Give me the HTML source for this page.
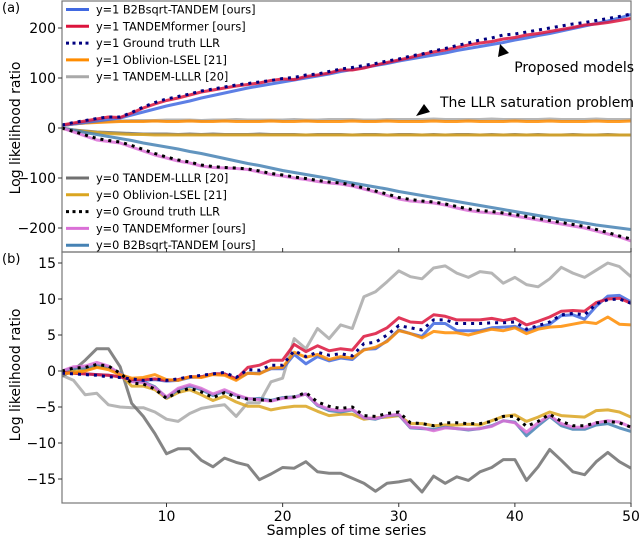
<!DOCTYPE html>
<html><head><meta charset="utf-8">
<style>
html,body{margin:0;padding:0;background:#fff;}
svg{display:block;font-family:"DejaVu Sans","Liberation Sans",sans-serif;}
</style></head>
<body>
<svg id="chart" width="640" height="538" viewBox="0 0 640 538"></svg>
<script>
const steps = Array.from({length:50},(_,i)=>i+1);
const xTicks = [10,20,30,40,50];
const topYTicks = [200,100,0,-100,-200];
const botYTicks = [15,10,5,0,-5,-10,-15];
const topTickLabels = ["200","100","0","\u2212100","\u2212200"];
const botTickLabels = ["15","10","5","0","\u22125","\u221210","\u221215"];

// Panel (a)
const a_y1_b2b = [5,8,11,14,17,20,26,32,38,44,49,54,60,65,70,75,80,84,88,92,96,100,104,108,113,117,121,125,129,134,138,142,146,150,155,159,163,167,171,176,180,185,189,194,199,204,209,214,220,227];
const a_y1_former = [6,10,14,18,22,21,30,40,48,55,60,66,72,76,80,84,87,90,95,98,97,103,106,110,116,116,120,126,131,136,141,147,152,156,161,166,170,173,178,181,186,189,193,197,201,206,208,211,215,219];
const a_y1_gt = [6,11,15,19,22,22,31,42,51,58,63,68,74,78,82,86,89,92,95,99,101,106,108,113,118,121,125,129,134,138,144,148,154,159,165,170,176,180,186,188,192,196,200,204,208,211,215,219,223,228];
const a_y1_obl = [5,8,10,11,12,13,13,13,14,13,13,14,13,13,14,13,13,13,14,13,13,14,13,13,13,14,13,13,14,13,13,13,14,13,13,14,13,13,13,14,13,13,14,13,13,13,14,13,13,14];
const a_y1_lllr = [5,8,10,12,13,14,15,15,15,16,16,16,15,16,16,17,16,16,16,16,17,16,16,17,17,17,16,16,17,17,17,17,18,17,17,17,17,18,17,17,17,17,18,17,17,17,18,17,17,17];
const a_y0_lllr = [-1,-4,-6,-8,-9,-10,-11,-12,-12,-12,-13,-12,-13,-12,-13,-13,-13,-12,-13,-13,-13,-14,-13,-13,-13,-14,-13,-13,-14,-13,-13,-14,-13,-14,-13,-13,-14,-13,-14,-13,-14,-13,-14,-14,-13,-14,-14,-13,-14,-14];
const a_y0_obl = [-1,-4,-7,-9,-11,-12,-13,-13,-14,-14,-14,-14,-14,-14,-14,-14,-14,-14,-14,-14,-14,-14,-14,-14,-14,-14,-14,-14,-14,-14,-14,-14,-14,-14,-14,-14,-14,-14,-14,-14,-14,-14,-14,-14,-14,-14,-14,-14,-14,-14];
const a_y0_gt = [0,-7,-14,-21,-25,-28,-35,-43,-51,-58,-64,-68,-74,-77,-79,-80,-82,-86,-91,-94,-98,-101,-105,-108,-110,-114,-120,-126,-132,-139,-143,-146,-148,-152,-157,-162,-165,-167,-170,-173,-177,-181,-185,-189,-193,-197,-203,-209,-216,-222];
const a_y0_former = [0,-8,-16,-24,-27,-30,-38,-46,-54,-60,-66,-70,-76,-79,-80,-81,-83,-88,-93,-96,-100,-103,-107,-110,-112,-116,-122,-128,-135,-142,-146,-148,-150,-154,-160,-165,-168,-170,-172,-176,-180,-184,-188,-192,-196,-200,-206,-212,-218,-226];
const a_y0_b2b = [0,-4,-9,-13,-17,-21,-25,-30,-34,-38,-42,-47,-51,-56,-61,-66,-71,-75,-80,-85,-89,-93,-97,-101,-106,-110,-114,-118,-122,-127,-131,-135,-139,-143,-147,-151,-155,-159,-163,-167,-171,-175,-179,-183,-186,-190,-194,-197,-200,-203];

// Panel (b)
const b_y1_lllr = [-0.6,-1.3,-3.3,-3.1,-4.7,-5.0,-5.1,-5.1,-5.7,-6.7,-7.0,-5.9,-5.2,-4.9,-4.7,-6.3,-4.4,-4.4,-1.5,-1.0,4.5,3.1,5.9,4.5,6.4,5.9,10.3,11.0,12.4,13.9,13.1,12.8,14.3,14.6,13.6,13.0,13.8,13.6,12.2,13.0,12.0,11.7,12.8,14.4,13.6,13.0,14.0,15.0,14.5,13.1];
const b_y0_lllr = [-0.7,0.1,1.5,3.1,3.1,0.6,-4.5,-6.3,-8.7,-11.5,-10.8,-10.8,-12.4,-13.3,-12.1,-12.7,-13.1,-15.1,-14.3,-13.4,-13.5,-12.6,-14.0,-14.2,-14.2,-14.9,-15.6,-16.7,-15.6,-15.4,-15.1,-16.8,-14.6,-15.6,-14.7,-15.2,-14.0,-13.4,-12.3,-12.3,-15.2,-13.3,-10.9,-12.4,-14.0,-14.4,-12.6,-11.3,-12.6,-13.5];
const b_y1_former = [-0.2,-0.3,-0.4,-0.5,-0.6,-0.8,-1.2,-1.2,-1.1,-1.3,-1.2,-0.8,-0.8,-0.4,-0.4,-1.1,0.5,0.8,1.5,1.5,3.7,2.7,3.5,2.8,3.1,2.9,4.8,5.2,6.0,7.4,6.8,6.7,7.8,7.6,7.1,7.1,7.1,7.3,7.0,7.3,6.4,6.9,7.5,8.3,8.4,8.3,9.5,10.0,10.1,9.4];
const b_y1_b2b = [-0.2,-0.3,-0.4,-0.5,-0.6,-0.8,-1.2,-1.3,-1.2,-1.4,-1.3,-0.9,-0.8,-0.4,-0.4,-1.1,-0.3,-0.3,0.3,0.3,2.3,1.0,2.0,1.4,1.8,1.6,3.0,3.1,4.2,5.7,5.2,4.8,6.6,6.6,5.6,5.6,5.6,6.0,6.1,6.2,5.6,6.1,6.5,7.7,7.8,7.2,9.0,10.4,10.5,9.6];
const b_y1_gt = [-0.3,-0.4,-0.5,-0.6,-0.8,-0.9,-1.1,-1.3,-1.1,-1.3,-1.1,-0.8,-0.6,-0.4,-0.2,-0.9,0.2,0.1,0.8,0.8,2.8,2.0,2.6,2.2,2.4,2.1,3.8,4.0,5.0,6.3,6.0,5.7,7.1,7.1,6.6,6.6,6.6,6.7,6.7,6.8,5.8,6.3,6.8,7.8,8.0,7.8,9.3,9.9,10.0,9.4];
const b_y1_obl = [-0.3,-0.3,0.0,0.5,0.2,-0.5,-1.0,-0.9,-0.5,-1.2,-1.3,-0.8,-0.9,-0.5,-0.6,-1.3,-0.3,-0.4,0.4,0.5,2.6,1.9,2.3,1.6,2.0,1.8,2.9,3.3,4.1,5.6,5.2,4.6,5.5,5.3,5.3,5.0,5.4,5.8,5.6,6.0,5.2,5.8,6.1,6.2,6.5,6.8,6.6,7.5,6.5,6.4];
const b_y0_former = [0,0.6,0.7,1.2,0.7,-0.4,-1.5,-1.6,-2.3,-3.6,-2.4,-1.9,-2.4,-3.2,-2.6,-3.3,-3.8,-4.0,-4.2,-3.8,-3.7,-3.2,-4.7,-5.3,-5.5,-5.3,-6.5,-6.6,-6.2,-6.0,-7.8,-7.9,-8.3,-7.9,-8.0,-8.1,-8.0,-7.7,-6.9,-7.2,-8.5,-7.2,-6.2,-7.3,-7.8,-7.8,-7.2,-6.9,-7.1,-7.8];
const b_y0_b2b = [0,0.4,0.4,0.8,0.5,-0.3,-1.4,-1.5,-2.2,-3.7,-2.6,-2.1,-2.6,-3.4,-2.8,-3.4,-3.9,-3.8,-4.1,-3.7,-3.6,-3.2,-4.8,-5.5,-5.7,-5.4,-6.5,-6.7,-6.2,-6.1,-7.9,-8.0,-8.1,-7.8,-8.0,-8.2,-8.0,-7.6,-6.9,-7.1,-9.0,-7.6,-6.3,-7.6,-8.1,-8.1,-7.5,-7.3,-7.9,-8.4];
const b_y0_gt = [0,0.4,0.5,0.9,0.7,-0.3,-1.7,-1.8,-2.5,-3.8,-2.9,-2.4,-2.9,-3.7,-3.0,-3.6,-3.9,-4.0,-4.1,-3.7,-3.6,-3.0,-4.3,-4.9,-5.2,-5.0,-6.2,-6.3,-5.9,-5.7,-7.2,-7.3,-7.6,-7.2,-7.2,-7.3,-7.3,-7.0,-6.3,-6.3,-7.7,-7.0,-6.0,-7.0,-7.6,-7.6,-7.2,-7.0,-7.2,-7.8];
const b_y0_obl = [0,-0.1,0.2,0.6,0.5,-0.4,-2.1,-2.1,-2.6,-3.8,-3.0,-2.6,-3.3,-4.1,-3.5,-4.3,-4.9,-4.9,-5.4,-5.1,-4.9,-4.9,-5.6,-6.2,-6.0,-6.0,-6.7,-6.5,-6.4,-6.2,-7.3,-7.3,-7.6,-7.5,-7.5,-7.4,-7.5,-6.9,-6.3,-6.1,-7.0,-6.4,-5.7,-6.2,-6.3,-6.4,-5.5,-5.4,-5.7,-6.4];

const NS="http://www.w3.org/2000/svg";
const svg=document.getElementById('chart');
const L=62, R=631;
const xS = t => L + (t-1)*(R-L)/49;
const yA = v => 128 - v*0.5;
const yB = v => 371 - v*7.2;
function mk(tag, attrs, parent){const e=document.createElementNS(NS,tag);for(const k in attrs)e.setAttribute(k,attrs[k]);(parent||svg).appendChild(e);return e;}
function txt(s, attrs, parent){const e=mk('text',attrs,parent);e.textContent=s;return e;}

const C={b2b:"#4169e1",former:"#dc143c",gt1:"#000080",obl1:"#ff8c00",lllr1:"#a9a9a9",lllr0:"#707070",obl0:"#daa520",gt0:"#000000",former0:"#da70d6",b2b0:"#4682b4"};

function series(vals, ys, color, dotted, name, g){
  const d = vals.map((v,i)=>(i?'L':'M')+xS(steps[i]).toFixed(1)+','+ys(v).toFixed(1)).join(' ');
  const p = mk('path',{d:d,fill:'none',stroke:color,'stroke-width':3,'stroke-linejoin':'round','stroke-opacity':dotted?1:0.85},g);
  if(dotted){p.setAttribute('stroke-dasharray','3 5');p.setAttribute('stroke-linecap','butt');}
  
  
}

// clip paths
const defs=mk('defs',{});
const ca=mk('clipPath',{id:'ca'},defs); mk('rect',{x:L,y:1,width:R-L,height:251},ca);
const cb=mk('clipPath',{id:'cb'},defs); mk('rect',{x:L,y:252,width:R-L,height:251},cb);

// Panel A
const gA=mk('g',{'clip-path':'url(#ca)'});


series(a_y1_lllr,yA,C.lllr1,false,'a-y1-tandem-lllr',gA);
series(a_y1_obl,yA,C.obl1,false,'a-y1-oblivion',gA);
series(a_y0_lllr,yA,C.lllr0,false,'a-y0-tandem-lllr',gA);
series(a_y0_obl,yA,C.obl0,false,'a-y0-oblivion',gA);
series(a_y1_b2b,yA,C.b2b,false,'a-y1-b2bsqrt',gA);
series(a_y1_former,yA,C.former,false,'a-y1-tandemformer',gA);
series(a_y0_b2b,yA,C.b2b0,false,'a-y0-b2bsqrt',gA);
series(a_y0_former,yA,C.former0,false,'a-y0-tandemformer',gA);
series(a_y1_gt,yA,C.gt1,true,'a-y1-ground-truth',gA);
series(a_y0_gt,yA,C.gt0,true,'a-y0-ground-truth',gA);

// Panel B
const gB=mk('g',{'clip-path':'url(#cb)'});


series(b_y1_lllr,yB,C.lllr1,false,'b-y1-tandem-lllr',gB);
series(b_y0_lllr,yB,C.lllr0,false,'b-y0-tandem-lllr',gB);
series(b_y0_obl,yB,C.obl0,false,'b-y0-oblivion',gB);
series(b_y0_b2b,yB,C.b2b0,false,'b-y0-b2bsqrt',gB);
series(b_y0_former,yB,C.former0,false,'b-y0-tandemformer',gB);
series(b_y1_b2b,yB,C.b2b,false,'b-y1-b2bsqrt',gB);
series(b_y1_former,yB,C.former,false,'b-y1-tandemformer',gB);
series(b_y1_obl,yB,C.obl1,false,'b-y1-oblivion',gB);
series(b_y1_gt,yB,C.gt1,true,'b-y1-ground-truth',gB);
series(b_y0_gt,yB,C.gt0,true,'b-y0-ground-truth',gB);

// frames
const fa=mk('rect',{x:L,y:1,width:R-L,height:251,fill:'none',stroke:'#777','stroke-width':1.2});


const fb=mk('rect',{x:L,y:252,width:R-L,height:251,fill:'none',stroke:'#777','stroke-width':1.2});



// ticks
topYTicks.forEach((v,i)=>{
  mk('line',{x1:L-4,x2:L,y1:yA(v),y2:yA(v),stroke:'#333'});
  const t=txt(topTickLabels[i],{x:L-6,y:yA(v)+5,'text-anchor':'end','font-size':14,fill:'#000'});
  
  
});
botYTicks.forEach((v,i)=>{
  mk('line',{x1:L-4,x2:L,y1:yB(v),y2:yB(v),stroke:'#333'});
  const t=txt(botTickLabels[i],{x:L-6,y:yB(v)+5,'text-anchor':'end','font-size':14,fill:'#000'});
  
  
});
xTicks.forEach(v=>{
  mk('line',{x1:xS(v),x2:xS(v),y1:252,y2:248,stroke:'#333'});
  mk('line',{x1:xS(v),x2:xS(v),y1:503,y2:507,stroke:'#333'});
  const t=txt(String(v),{x:xS(v),y:521,'text-anchor':'middle','font-size':14,fill:'#000'});
  
  
});

// axis labels
let t;
t=txt('Log likelihood ratio',{x:0,y:0,transform:'translate(20,128) rotate(-90)','text-anchor':'middle','font-size':14});


t=txt('Log likelihood ratio',{x:0,y:0,transform:'translate(20,375) rotate(-90)','text-anchor':'middle','font-size':14});


t=txt('Samples of time series',{x:(L+R)/2,y:535,'text-anchor':'middle','font-size':14});


t=txt('(a)',{x:2,y:12,'font-size':13});


t=txt('(b)',{x:2,y:263,'font-size':13});



// legends
const legTop=[["y=1 B2Bsqrt-TANDEM [ours]",C.b2b,false],["y=1 TANDEMformer [ours]",C.former,false],["y=1 Ground truth LLR",C.gt1,true],["y=1 Oblivion-LSEL [21]",C.obl1,false],["y=1 TANDEM-LLLR [20]",C.lllr1,false]];
const legBot=[["y=0 TANDEM-LLLR [20]",C.lllr0,false],["y=0 Oblivion-LSEL [21]",C.obl0,false],["y=0 Ground truth LLR",C.gt0,true],["y=0 TANDEMformer [ours]",C.former0,false],["y=0 B2Bsqrt-TANDEM [ours]",C.b2b0,false]];
function legend(items,y0){
  items.forEach((it,i)=>{
    const y=y0+i*16.8;
    const g=mk('g',{});
    
    
    const ln=mk('line',{x1:66,x2:89,y1:y,y2:y,stroke:it[1],'stroke-width':3},g);
    if(it[2]) ln.setAttribute('stroke-dasharray','3 3.5');
    txt(it[0],{x:96,y:y+4,'font-size':11.3,fill:'#000'},g);
  });
}
legend(legTop,9.5);
legend(legBot,178);

// annotations
t=txt('Proposed models',{x:634,y:72,'text-anchor':'end','font-size':14});


let ar=mk('polygon',{points:'500,44 498,57 509,53',fill:'#000'});


t=txt('The LLR saturation problem',{x:634,y:107,'text-anchor':'end','font-size':14});


ar=mk('polygon',{points:'416,116 424,104 430,112',fill:'#000'});


</script>
</body></html>
